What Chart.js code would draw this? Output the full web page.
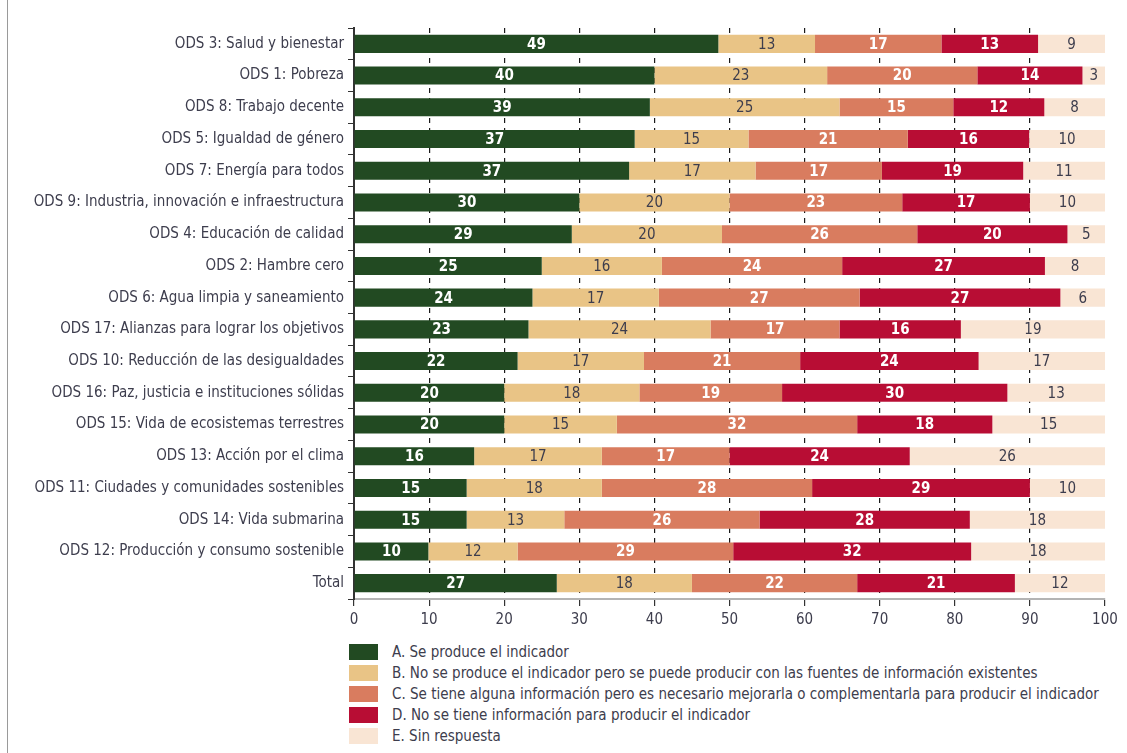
<!DOCTYPE html>
<html lang="es">
<head>
<meta charset="utf-8">
<script src="https://cdn.jsdelivr.net/npm/chart.js@4.4.1/dist/chart.umd.min.js"></script>
<style>
    body { margin: 0; background: #fff; }
    #marco { position: relative; width: 1127px; height: 753px; overflow: hidden; }
    #marco:before { content: ''; position: absolute; left: 7px; top: 0; bottom: 0; border-left: 1px solid #9a9a9a; }
    #contenedor { position: absolute; left: 0; top: 0; width: 1127px; height: 640px; }
    #leyenda {
        position: absolute; left: 349px; top: 641px; width: 778px;
        font-family: 'Liberation Sans Narrow', 'DejaVu Sans Condensed', sans-serif;
        font-size: 15px; color: #3d3d4d; white-space: nowrap;
    }
    .item { height: 21px; display: flex; align-items: center; }
    .cuadro { width: 29px; height: 16px; margin-right: 14px; flex: none; }
</style>
</head>
<body>
<div id="marco">
    <div id="contenedor"><canvas id="graficoODS"></canvas></div>
    <div id="leyenda"></div>
</div>
<script>
// Datos (porcentajes por ODS)
const categorias = [
    'ODS 3: Salud y bienestar',
    'ODS 1: Pobreza',
    'ODS 8: Trabajo decente',
    'ODS 5: Igualdad de género',
    'ODS 7: Energía para todos',
    'ODS 9: Industria, innovación e infraestructura',
    'ODS 4: Educación de calidad',
    'ODS 2: Hambre cero',
    'ODS 6: Agua limpia y saneamiento',
    'ODS 17: Alianzas para lograr los objetivos',
    'ODS 10: Reducción de las desigualdades',
    'ODS 16: Paz, justicia e instituciones sólidas',
    'ODS 15: Vida de ecosistemas terrestres',
    'ODS 13: Acción por el clima',
    'ODS 11: Ciudades y comunidades sostenibles',
    'ODS 14: Vida submarina',
    'ODS 12: Producción y consumo sostenible',
    'Total'
];

const serieA = [49, 40, 39, 37, 37, 30, 29, 25, 24, 23, 22, 20, 20, 16, 15, 15, 10, 27];
const serieB = [13, 23, 25, 15, 17, 20, 20, 16, 17, 24, 17, 18, 15, 17, 18, 13, 12, 18];
const serieC = [17, 20, 15, 21, 17, 23, 26, 24, 27, 17, 21, 19, 32, 17, 28, 26, 29, 22];
const serieD = [13, 14, 12, 16, 19, 17, 20, 27, 27, 16, 24, 30, 18, 24, 29, 28, 32, 21];
const serieE = [9, 3, 8, 10, 11, 10, 5, 8, 6, 19, 17, 13, 15, 26, 10, 18, 18, 12];

const nombresSeries = [
    'A. Se produce el indicador',
    'B. No se produce el indicador pero se puede producir con las fuentes de información existentes',
    'C. Se tiene alguna información pero es necesario mejorarla o complementarla para producir el indicador',
    'D. No se tiene información para producir el indicador',
    'E. Sin respuesta'
];

const coloresSeries = ['#224a22', '#e9c486', '#d97c5f', '#b80d34', '#f9e5d4'];
const coloresTexto = ['#ffffff', '#3d3d4d', '#ffffff', '#ffffff', '#3d3d4d'];
const negritaTexto = [true, false, true, true, false];

const fuente = "'Liberation Sans Narrow', 'DejaVu Sans Condensed', sans-serif";
const colorTexto = '#3d3d4d';

const series = [serieA, serieB, serieC, serieD, serieE];

// Cada barra se escala para ocupar el 100 %
const totales = categorias.map((_, i) => series.reduce((s, serie) => s + serie[i], 0));

// Etiquetas de valor dentro de cada segmento
const etiquetasPlugin = {
    id: 'etiquetasValores',
    afterDatasetsDraw(chart) {
        const ctx = chart.ctx;
        chart.data.datasets.forEach((ds, i) => {
            const meta = chart.getDatasetMeta(i);
            meta.data.forEach((barra, j) => {
                const p = barra.getProps(['x', 'y', 'base'], true);
                ctx.save();
                ctx.fillStyle = coloresTexto[i];
                ctx.font = (negritaTexto[i] ? 'bold ' : '') + '15px ' + fuente;
                ctx.textAlign = 'center';
                ctx.textBaseline = 'middle';
                ctx.fillText(String(series[i][j]), (p.x + p.base) / 2, p.y + 1);
                ctx.restore();
            });
        });
    }
};

const ctx = document.getElementById('graficoODS').getContext('2d');

const graficoODS = new Chart(ctx, {
    type: 'bar',
    data: {
        labels: categorias,
        datasets: series.map((serie, i) => ({
            label: nombresSeries[i],
            data: serie.map((v, j) => v / totales[j] * 100),
            backgroundColor: coloresSeries[i],
            borderWidth: 0,
            barPercentage: 0.57,
            categoryPercentage: 1
        }))
    },
    options: {
        indexAxis: 'y',
        responsive: true,
        maintainAspectRatio: false,
        animation: false,
        layout: {
            padding: { top: 28, right: 22, left: 0, bottom: 0 }
        },
        scales: {
            x: {
                stacked: true,
                min: 0,
                max: 100,
                ticks: {
                    stepSize: 10,
                    color: colorTexto,
                    font: { family: fuente, size: 15 },
                    padding: 5
                },
                grid: {
                    color: c => (c.tick && (c.tick.value === 0 || c.tick.value === 100)) ? 'rgba(0,0,0,0)' : '#1a1a1a',
                    lineWidth: 1.2,
                    tickColor: '#333',
                    tickLength: 7
                },
                border: {
                    color: '#b4b4b4',
                    width: 2,
                    dash: [5, 5]
                },
                afterFit: scale => { scale.height = 41; }
            },
            y: {
                stacked: true,
                ticks: {
                    color: colorTexto,
                    font: { family: fuente, size: 15 },
                    padding: 4
                },
                grid: {
                    drawOnChartArea: false,
                    offset: true,
                    color: '#333',
                    tickLength: 6
                },
                border: {
                    color: '#333',
                    width: 2
                },
                afterFit: scale => { scale.width = 354; }
            }
        },
        plugins: {
            legend: { display: false },
            tooltip: { enabled: false }
        }
    },
    plugins: [etiquetasPlugin]
});

// Leyenda vertical debajo del gráfico
const leyenda = document.getElementById('leyenda');
nombresSeries.forEach((nombre, i) => {
    const item = document.createElement('div');
    item.className = 'item';
    const cuadro = document.createElement('span');
    cuadro.className = 'cuadro';
    cuadro.style.background = coloresSeries[i];
    const texto = document.createElement('span');
    texto.textContent = nombre;
    item.appendChild(cuadro);
    item.appendChild(texto);
    leyenda.appendChild(item);
});
</script>
</body>
</html>
